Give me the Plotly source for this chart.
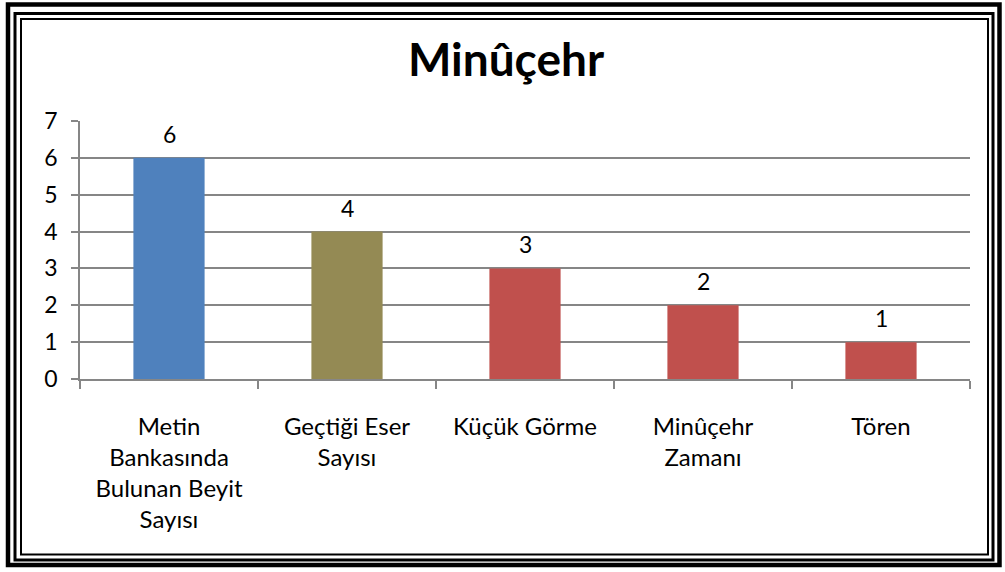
import plotly.graph_objects as go

categories = ["Metin<br>Bankasında<br>Bulunan Beyit<br>Sayısı", "Geçtiği Eser<br>Sayısı", "Küçük Görme", "Minûçehr<br>Zamanı", "Tören"]
values = [6, 4, 3, 2, 1]
colors = ["#4F81BD", "#948A54", "#C0504D", "#C0504D", "#C0504D"]
title_text = "Minûçehr"

W, H = 1005, 572
L, R, T, B = 80, 970, 121, 379
FONT = "Lato"

def px_x(p):
    return (p - L) / (R - L)

def px_y(p):
    return (B - p) / (B - T)

fig = go.Figure()
fig.add_trace(go.Bar(x=categories, y=values, marker=dict(color=colors, line=dict(width=0)),
                     width=0.4, cliponaxis=False, hoverinfo="skip"))

for c, v in zip(categories, values):
    fig.add_annotation(x=c, y=v, text=str(v), showarrow=False, yanchor="bottom", yshift=8,
                       font=dict(family=FONT, size=23, color="black"))

shapes = []
for (x0, y0, x1, y1, w) in [(8, 4.5, 999.5, 565, 4.5), (15, 13.5, 993, 560, 3), (21, 19, 988, 554.5, 2)]:
    shapes.append(dict(type="rect", xref="paper", yref="paper",
                       x0=px_x(x0), x1=px_x(x1), y0=px_y(y1), y1=px_y(y0),
                       line=dict(color="black", width=w), layer="above"))

fig.update_layout(
    width=W, height=H, autosize=False,
    margin=dict(l=L, r=W - R, t=T, b=H - B, pad=0),
    paper_bgcolor="white", plot_bgcolor="white",
    showlegend=False,
    title=dict(text="<b>" + title_text + "</b>", x=506 / W, xref="container", xanchor="center",
               y=1 - 60 / H, yref="container", yanchor="middle",
               font=dict(family=FONT, size=46, color="black")),
    shapes=shapes,
    bargap=0.6,
)
fig.update_yaxes(range=[0, 7], dtick=1, showgrid=True, gridcolor="#868686", gridwidth=1.5,
                 showline=True, linecolor="#868686", linewidth=1.5,
                 ticks="outside", ticklen=7, tickcolor="#868686", tickwidth=1.5,
                 tickfont=dict(family=FONT, size=23, color="black"), zeroline=False,
                 ticklabelstandoff=9)
fig.update_xaxes(showline=True, linecolor="#868686", linewidth=1.5,
                 ticks="outside", tickson="boundaries", ticklen=8, tickcolor="#868686", tickwidth=1.5,
                 tickfont=dict(family=FONT, size=24, color="black"),
                 ticklabelstandoff=25)

fig.write_html("out.html", post_script="document.body.style.margin='0';",
               config={"displayModeBar": False})
